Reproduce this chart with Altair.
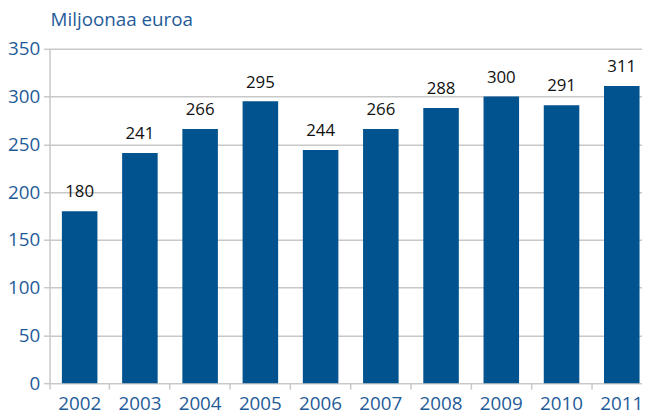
import altair as alt
import pandas as pd

years = ["2002", "2003", "2004", "2005", "2006", "2007", "2008", "2009", "2010", "2011"]
values = [180, 241, 266, 295, 244, 266, 288, 300, 291, 311]

df = pd.DataFrame({"year": years, "value": values})

blue_text = "#1f5b98"
bar_color = "#00538f"
grid_color = "#c8c8c8"
font = "Open Sans"

base = alt.Chart(df).encode(
    x=alt.X("year:N", sort=years, title=None,
            scale=alt.Scale(paddingInner=0, paddingOuter=0),
            axis=alt.Axis(bandPosition=0, labelAngle=0,
                          labelFontSize=19, labelColor=blue_text, labelFont=font,
                          domainColor=grid_color, domainWidth=1.5,
                          tickColor=grid_color, tickWidth=1.5, tickSize=6,
                          labelPadding=6, grid=False)),
    y=alt.Y("value:Q", title=None,
            scale=alt.Scale(domain=[0, 350]),
            axis=alt.Axis(values=list(range(0, 351, 50)),
                          labelFontSize=19, labelColor=blue_text, labelFont=font,
                          domainColor=grid_color, domainWidth=1.5,
                          tickColor=grid_color, tickWidth=1.5, tickSize=6,
                          gridColor=grid_color, gridWidth=1.5, labelPadding=4)),
)

bars = base.mark_bar(color=bar_color, width=alt.RelativeBandSize(0.59))
labels = base.mark_text(dy=-19, fontSize=17, font=font, color="#111111").encode(
    text="value:Q")

chart = (bars + labels).properties(
    width=609, height=338,
    autosize=alt.AutoSizeParams(type="none"),
    padding={"left": 42, "top": 39, "right": -10, "bottom": 36},
    title=alt.TitleParams("Miljoonaa euroa", anchor="start", fontSize=19,
                          font=font, fontWeight="normal", color=blue_text,
                          frame="group", dx=1, offset=10),
).configure_view(stroke=None)

chart.save("out.html", embed_options={"renderer": "svg", "actions": False})
